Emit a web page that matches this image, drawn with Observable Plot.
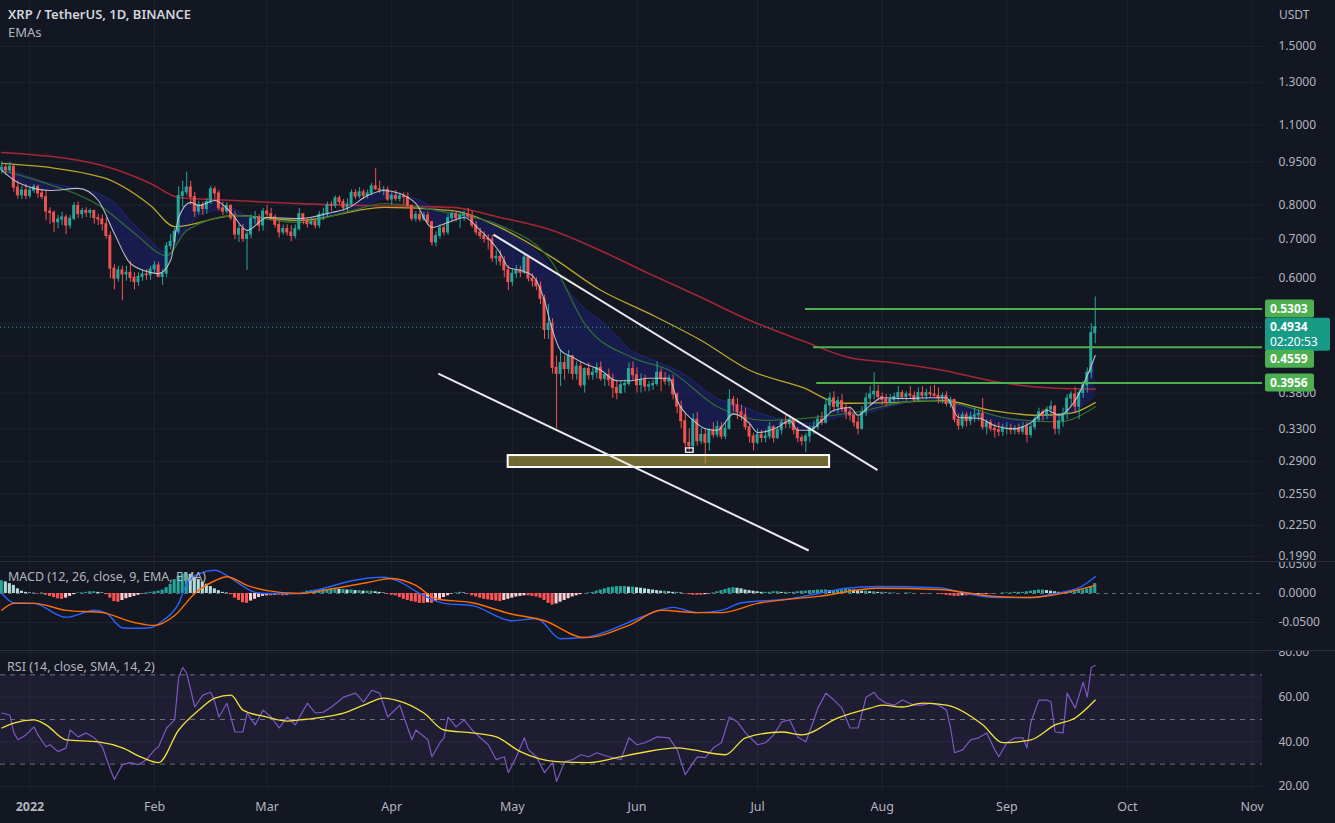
<!DOCTYPE html>
<html><head><meta charset="utf-8">
<script src="https://cdn.jsdelivr.net/npm/d3@7"></script>
<script src="https://cdn.jsdelivr.net/npm/@observablehq/plot@0.6"></script>
<style>
html,body{margin:0;padding:0;background:#131722;}
#chart{position:relative;width:1335px;height:823px;overflow:hidden;background:#131722;font-family:"Noto Sans","Open Sans",sans-serif;}
#chart svg{display:block;}
.lbl{position:absolute;color:#b2b5be;font-size:12px;white-space:nowrap;line-height:1;z-index:5;}
.sep{position:absolute;left:0;width:1335px;height:1px;background:#2a2e39;z-index:4;}
</style></head><body><div id="chart"></div><script>
// ---------------- DATA ----------------
const firstOpen = 0.92;          // open of first candle (2021-12-25)
const firstDay = "2021-12-25";
// daily [high, low, close]
const dec21 = [[0.950,0.905,0.928],[0.940,0.900,0.918],[0.948,0.908,0.932],[0.934,0.842,0.858],[0.880,0.820,0.832],[0.862,0.818,0.848],[0.868,0.818,0.830]];
const jan22 = [[0.858,0.822,0.848],[0.868,0.838,0.860],[0.866,0.822,0.838],[0.852,0.818,0.826],[0.848,0.752,0.780],[0.792,0.742,0.776],[0.782,0.718,0.748],[0.768,0.728,0.756],[0.778,0.738,0.762],[0.770,0.712,0.738],[0.768,0.728,0.758],[0.808,0.752,0.798],[0.810,0.758,0.772],[0.790,0.758,0.782],[0.792,0.762,0.776],[0.788,0.760,0.782],[0.784,0.742,0.760],[0.772,0.738,0.756],[0.770,0.722,0.742],[0.760,0.700,0.708],[0.720,0.598,0.622],[0.632,0.572,0.598],[0.628,0.590,0.618],[0.628,0.548,0.608],[0.628,0.592,0.612],[0.640,0.590,0.600],[0.612,0.572,0.590],[0.612,0.580,0.602],[0.618,0.592,0.608],[0.620,0.594,0.606],[0.628,0.594,0.620]];
const feb22 = [[0.640,0.608,0.630],[0.638,0.600,0.602],[0.620,0.582,0.610],[0.690,0.600,0.680],[0.712,0.670,0.692],[0.730,0.682,0.720],[0.860,0.712,0.830],[0.880,0.792,0.842],[0.912,0.830,0.858],[0.880,0.800,0.826],[0.842,0.762,0.780],[0.812,0.770,0.800],[0.810,0.768,0.788],[0.822,0.772,0.810],[0.862,0.802,0.852],[0.860,0.818,0.838],[0.848,0.782,0.790],[0.810,0.768,0.780],[0.808,0.772,0.798],[0.800,0.752,0.760],[0.780,0.698,0.712],[0.740,0.690,0.728],[0.742,0.690,0.700],[0.720,0.618,0.712],[0.770,0.700,0.758],[0.780,0.742,0.762],[0.770,0.720,0.738],[0.790,0.722,0.780]];
const mar22 = [[0.800,0.760,0.772],[0.790,0.752,0.762],[0.770,0.730,0.740],[0.752,0.702,0.718],[0.740,0.710,0.728],[0.740,0.708,0.718],[0.738,0.692,0.708],[0.740,0.700,0.728],[0.790,0.722,0.772],[0.772,0.740,0.752],[0.760,0.730,0.742],[0.760,0.738,0.748],[0.758,0.728,0.738],[0.780,0.730,0.770],[0.790,0.752,0.772],[0.810,0.762,0.800],[0.812,0.780,0.798],[0.830,0.790,0.822],[0.830,0.800,0.810],[0.818,0.782,0.792],[0.820,0.780,0.802],[0.850,0.798,0.840],[0.850,0.818,0.828],[0.858,0.820,0.842],[0.850,0.818,0.830],[0.850,0.820,0.838],[0.872,0.830,0.862],[0.925,0.848,0.852],[0.880,0.838,0.848],[0.862,0.830,0.850],[0.860,0.812,0.818]];
const apr22 = [[0.840,0.800,0.830],[0.848,0.812,0.820],[0.838,0.810,0.828],[0.840,0.800,0.826],[0.840,0.790,0.798],[0.800,0.750,0.758],[0.780,0.748,0.770],[0.780,0.748,0.756],[0.778,0.750,0.768],[0.778,0.738,0.748],[0.750,0.680,0.690],[0.720,0.678,0.708],[0.740,0.700,0.730],[0.742,0.708,0.718],[0.770,0.710,0.760],[0.780,0.748,0.772],[0.780,0.748,0.760],[0.778,0.730,0.768],[0.782,0.750,0.772],[0.790,0.758,0.766],[0.780,0.730,0.738],[0.750,0.710,0.718],[0.730,0.700,0.708],[0.720,0.688,0.700],[0.712,0.670,0.698],[0.710,0.638,0.648],[0.668,0.630,0.652],[0.668,0.628,0.640],[0.652,0.600,0.618],[0.630,0.570,0.590]];
const may22 = [[0.620,0.580,0.610],[0.630,0.598,0.618],[0.628,0.600,0.612],[0.660,0.608,0.650],[0.652,0.590,0.598],[0.610,0.578,0.592],[0.600,0.570,0.580],[0.590,0.540,0.552],[0.560,0.470,0.488],[0.540,0.470,0.500],[0.510,0.410,0.420],[0.440,0.330,0.410],[0.450,0.390,0.428],[0.440,0.400,0.418],[0.450,0.410,0.440],[0.440,0.400,0.410],[0.430,0.400,0.422],[0.430,0.388,0.392],[0.420,0.380,0.418],[0.428,0.400,0.408],[0.420,0.400,0.412],[0.428,0.402,0.420],[0.430,0.398,0.402],[0.410,0.390,0.408],[0.418,0.390,0.400],[0.410,0.372,0.388],[0.400,0.370,0.380],[0.398,0.378,0.392],[0.400,0.380,0.394],[0.428,0.390,0.418],[0.430,0.400,0.408]];
const jun22 = [[0.420,0.380,0.392],[0.410,0.380,0.400],[0.408,0.382,0.390],[0.398,0.382,0.392],[0.400,0.384,0.394],[0.430,0.390,0.412],[0.418,0.382,0.402],[0.412,0.392,0.398],[0.408,0.390,0.400],[0.408,0.370,0.378],[0.380,0.350,0.360],[0.368,0.330,0.340],[0.350,0.300,0.312],[0.330,0.302,0.308],[0.350,0.300,0.342],[0.352,0.308,0.314],[0.330,0.310,0.322],[0.330,0.287,0.312],[0.330,0.302,0.328],[0.338,0.318,0.322],[0.340,0.318,0.332],[0.338,0.316,0.320],[0.338,0.316,0.330],[0.385,0.328,0.370],[0.375,0.352,0.362],[0.372,0.342,0.352],[0.362,0.340,0.348],[0.358,0.328,0.332],[0.336,0.312,0.320],[0.324,0.302,0.312]];
const jul22 = [[0.330,0.310,0.322],[0.328,0.312,0.318],[0.328,0.312,0.320],[0.338,0.316,0.332],[0.334,0.312,0.318],[0.332,0.316,0.328],[0.342,0.322,0.338],[0.350,0.330,0.336],[0.348,0.330,0.342],[0.344,0.322,0.328],[0.332,0.312,0.318],[0.322,0.308,0.314],[0.324,0.300,0.320],[0.334,0.312,0.330],[0.340,0.322,0.332],[0.348,0.328,0.342],[0.352,0.334,0.338],[0.372,0.336,0.362],[0.380,0.352,0.372],[0.382,0.352,0.360],[0.374,0.350,0.368],[0.378,0.352,0.358],[0.364,0.342,0.352],[0.360,0.340,0.348],[0.352,0.332,0.338],[0.346,0.322,0.330],[0.360,0.328,0.352],[0.380,0.346,0.372],[0.390,0.362,0.378],[0.412,0.370,0.382],[0.392,0.368,0.374]];
const aug22 = [[0.380,0.362,0.370],[0.378,0.360,0.366],[0.378,0.362,0.370],[0.380,0.364,0.374],[0.390,0.368,0.380],[0.384,0.370,0.374],[0.382,0.368,0.378],[0.390,0.372,0.376],[0.382,0.366,0.370],[0.388,0.366,0.380],[0.390,0.372,0.376],[0.386,0.370,0.380],[0.390,0.374,0.378],[0.392,0.374,0.376],[0.388,0.364,0.372],[0.380,0.364,0.376],[0.382,0.360,0.364],[0.374,0.358,0.370],[0.370,0.338,0.342],[0.350,0.328,0.334],[0.352,0.330,0.348],[0.352,0.332,0.340],[0.352,0.334,0.346],[0.360,0.338,0.348],[0.356,0.340,0.350],[0.372,0.328,0.332],[0.342,0.322,0.338],[0.342,0.326,0.330],[0.336,0.318,0.328],[0.338,0.320,0.326],[0.336,0.320,0.330]];
const sep22 = [[0.338,0.322,0.330],[0.336,0.322,0.328],[0.334,0.322,0.330],[0.336,0.322,0.326],[0.338,0.322,0.332],[0.338,0.312,0.322],[0.336,0.318,0.332],[0.348,0.328,0.342],[0.358,0.338,0.352],[0.356,0.340,0.348],[0.360,0.342,0.356],[0.368,0.348,0.360],[0.362,0.322,0.330],[0.350,0.322,0.340],[0.358,0.332,0.350],[0.378,0.342,0.372],[0.382,0.360,0.378],[0.388,0.350,0.360],[0.384,0.342,0.380],[0.398,0.372,0.392],[0.420,0.380,0.412],[0.500,0.402,0.482],[0.556,0.462,0.4934]];

// EMA ribbon: [date, fast EMA (white), slower EMA (ribbon edge)]
const emaRibbon = [["2021-12-25",0.918,0.936],["2021-12-29",0.875,0.911],["2022-01-06",0.848,0.872],["2022-01-13",0.855,0.855],["2022-01-18",0.815,0.838],["2022-01-22",0.715,0.809],["2022-01-26",0.635,0.753],["2022-01-31",0.613,0.696],["2022-02-02",0.610,0.674],["2022-02-05",0.643,0.663],["2022-02-07",0.762,0.696],["2022-02-10",0.809,0.738],["2022-02-12",0.799,0.768],["2022-02-16",0.815,0.783],["2022-02-20",0.777,0.790],["2022-02-24",0.724,0.768],["2022-03-01",0.762,0.759],["2022-03-09",0.759,0.759],["2022-03-17",0.777,0.771],["2022-03-21",0.790,0.783],["2022-03-26",0.831,0.802],["2022-03-30",0.848,0.821],["2022-04-03",0.838,0.828],["2022-04-07",0.805,0.821],["2022-04-11",0.732,0.796],["2022-04-15",0.747,0.777],["2022-04-19",0.762,0.774],["2022-04-23",0.724,0.759],["2022-04-28",0.661,0.738],["2022-04-30",0.625,0.718],["2022-05-03",0.618,0.696],["2022-05-06",0.605,0.674],["2022-05-09",0.548,0.643],["2022-05-11",0.487,0.618],["2022-05-13",0.450,0.594],["2022-05-16",0.438,0.559],["2022-05-19",0.427,0.531],["2022-05-23",0.416,0.507],["2022-05-27",0.399,0.477],["2022-05-30",0.399,0.453],["2022-06-04",0.403,0.436],["2022-06-09",0.403,0.422],["2022-06-11",0.369,0.416],["2022-06-15",0.341,0.399],["2022-06-18",0.330,0.384],["2022-06-21",0.328,0.372],["2022-06-25",0.350,0.365],["2022-06-29",0.337,0.357],["2022-07-01",0.325,0.352],["2022-07-06",0.332,0.344],["2022-07-09",0.341,0.341],["2022-07-11",0.328,0.338],["2022-07-14",0.328,0.337],["2022-07-17",0.341,0.338],["2022-07-20",0.355,0.344],["2022-07-24",0.359,0.348],["2022-07-26",0.348,0.349],["2022-07-29",0.362,0.352],["2022-08-01",0.373,0.357],["2022-08-07",0.372,0.366],["2022-08-13",0.373,0.369],["2022-08-17",0.373,0.369],["2022-08-20",0.345,0.365],["2022-08-25",0.344,0.355],["2022-08-29",0.334,0.348],["2022-09-03",0.330,0.341],["2022-09-07",0.338,0.340],["2022-09-11",0.355,0.344],["2022-09-14",0.348,0.346],["2022-09-18",0.369,0.355],["2022-09-23",0.441,0.376]];
const emaRed = [["2021-12-25",0.986],["2022-01-19",0.936],["2022-01-31",0.872],["2022-02-07",0.825],["2022-02-21",0.815],["2022-03-09",0.805],["2022-03-26",0.799],["2022-04-16",0.793],["2022-04-28",0.762],["2022-05-11",0.724],["2022-05-23",0.668],["2022-06-04",0.610],["2022-06-17",0.555],["2022-06-29",0.507],["2022-07-12",0.468],["2022-07-24",0.437],["2022-08-03",0.429],["2022-08-16",0.416],["2022-08-28",0.399],["2022-09-09",0.389],["2022-09-23",0.386]];
const emaYellow = [["2021-12-25",0.944],["2022-01-19",0.893],["2022-01-31",0.799],["2022-02-06",0.735],["2022-02-21",0.768],["2022-03-09",0.753],["2022-03-30",0.793],["2022-04-16",0.783],["2022-04-28",0.732],["2022-05-11",0.650],["2022-05-23",0.571],["2022-06-04",0.521],["2022-06-17",0.468],["2022-06-29",0.416],["2022-07-12",0.389],["2022-07-22",0.365],["2022-08-03",0.366],["2022-08-16",0.369],["2022-08-28",0.355],["2022-09-09",0.348],["2022-09-17",0.351],["2022-09-23",0.366]];
const emaGreen = [["2021-12-25",0.918],["2022-01-05",0.872],["2022-01-19",0.793],["2022-01-27",0.716],["2022-02-04",0.655],["2022-02-09",0.724],["2022-02-21",0.768],["2022-03-09",0.747],["2022-03-22",0.783],["2022-03-30",0.805],["2022-04-16",0.774],["2022-04-28",0.738],["2022-05-11",0.636],["2022-05-19",0.500],["2022-05-31",0.437],["2022-06-09",0.416],["2022-06-21",0.360],["2022-07-03",0.341],["2022-07-24",0.351],["2022-08-11",0.369],["2022-08-18",0.366],["2022-09-01",0.344],["2022-09-14",0.339],["2022-09-23",0.360]];

// drawings
const trendLines = [
  {from: "2022-04-26T07:00:00Z", p1: 0.712, to: "2022-07-30T20:00:00Z", p2: 0.280},
  {from: "2022-04-12T14:00:00Z", p1: 0.4106, to: "2022-07-13T17:00:00Z", p2: 0.2037}
];
const supportZone = [{from: "2022-04-29T23:00:00Z", to: "2022-07-18T22:00:00Z", top: 0.2967, bottom: 0.283}];
const lowMarker = [{from: "2022-06-13T06:00:00Z", to: "2022-06-15T02:00:00Z", top: 0.3052, bottom: 0.3000}];
const levels = [{price: 0.5303, from: "2022-07-12T22:00:00Z"}, {price: 0.4559, from: "2022-07-14T22:00:00Z"}, {price: 0.3956, from: "2022-07-15T17:00:00Z"}];
const lastPrice = 0.4934;
const countdown = "02:20:53";

// axis ticks
const priceTicks = [1.5, 1.3, 1.1, 0.95, 0.8, 0.7, 0.6, 0.38, 0.33, 0.29, 0.255, 0.225, 0.199];
const priceGrid = [1.5, 1.3, 1.1, 0.95, 0.8, 0.7, 0.6, 0.5, 0.44, 0.38, 0.33, 0.29, 0.255, 0.225, 0.199];
const macdTicks = [0.05, 0, -0.05];
const rsiTicks = [80, 60, 40, 20];
const rsiLevels = [70, 50, 30];
const xTickDates = ["2022-01-01","2022-02-01","2022-03-01","2022-04-01","2022-05-01","2022-06-01","2022-07-01","2022-08-01","2022-09-01","2022-10-01","2022-11-01"];
const xTickLabels = ["2022","Feb","Mar","Apr","May","Jun","Jul","Aug","Sep","Oct","Nov"];

// MACD (12,26,9): MACD line, signal line samples, daily histogram
const macdLine = [["2021-12-25",0.000],["2021-12-28",-0.016],["2022-01-02",-0.017],["2022-01-10",-0.041],["2022-01-17",-0.029],["2022-01-20",-0.034],["2022-01-24",-0.059],["2022-01-27",-0.060],["2022-01-31",-0.059],["2022-02-03",-0.047],["2022-02-07",-0.017],["2022-02-09",0.017],["2022-02-12",0.034],["2022-02-16",0.040],["2022-02-19",0.031],["2022-02-22",0.017],["2022-02-26",0.002],["2022-03-01",0.000],["2022-03-08",0.000],["2022-03-14",0.007],["2022-03-22",0.022],["2022-03-30",0.028],["2022-04-03",0.020],["2022-04-08",0.000],["2022-04-14",-0.017],["2022-04-21",-0.021],["2022-05-01",-0.047],["2022-05-07",-0.043],["2022-05-13",-0.078],["2022-05-19",-0.076],["2022-05-25",-0.064],["2022-06-02",-0.041],["2022-06-10",-0.024],["2022-06-16",-0.033],["2022-06-22",-0.029],["2022-06-27",-0.016],["2022-07-09",-0.009],["2022-07-16",0.000],["2022-07-23",0.009],["2022-07-31",0.012],["2022-08-15",0.010],["2022-08-22",0.000],["2022-08-29",-0.007],["2022-09-07",-0.007],["2022-09-13",0.000],["2022-09-19",0.010],["2022-09-23",0.029]];
const signalLine = [["2021-12-25",-0.029],["2021-12-28",-0.017],["2022-01-02",-0.017],["2022-01-10",-0.029],["2022-01-19",-0.033],["2022-01-27",-0.050],["2022-02-01",-0.055],["2022-02-06",-0.038],["2022-02-11",0.000],["2022-02-16",0.022],["2022-02-19",0.029],["2022-02-24",0.014],["2022-03-01",0.005],["2022-03-09",0.000],["2022-03-18",0.009],["2022-03-26",0.019],["2022-04-01",0.026],["2022-04-07",0.014],["2022-04-12",-0.009],["2022-04-21",-0.016],["2022-04-30",-0.034],["2022-05-09",-0.047],["2022-05-19",-0.076],["2022-05-30",-0.055],["2022-06-07",-0.029],["2022-06-16",-0.033],["2022-06-22",-0.033],["2022-07-01",-0.017],["2022-07-16",-0.005],["2022-07-31",0.009],["2022-08-15",0.007],["2022-08-29",-0.005],["2022-09-07",-0.007],["2022-09-16",0.002],["2022-09-23",0.014]];
const macdHist = [0.022,0.020,0.017,0.014,0.008,0.004,0.002,0.001,0.001,-0.001,0.001,-0.003,-0.005,-0.007,-0.009,-0.010,-0.008,-0.005,-0.002,0.001,0.001,0.002,0.003,0.003,0.002,0.001,-0.002,-0.008,-0.014,-0.015,-0.012,-0.009,-0.007,-0.005,-0.003,-0.001,0.001,0.002,0.003,0.004,0.006,0.010,0.016,0.024,0.030,0.034,0.036,0.033,0.028,0.024,0.020,0.016,0.012,0.008,0.005,0.002,0.001,-0.002,-0.008,-0.012,-0.016,-0.017,-0.013,-0.010,-0.007,-0.005,-0.004,-0.004,-0.003,-0.003,-0.004,-0.003,-0.002,-0.002,-0.001,0.002,0.004,0.005,0.006,0.006,0.007,0.007,0.008,0.008,0.007,0.007,0.006,0.006,0.005,0.005,0.004,0.004,0.004,0.003,0.002,0.001,-0.001,-0.003,-0.004,-0.007,-0.010,-0.012,-0.014,-0.015,-0.017,-0.017,-0.016,-0.017,-0.014,-0.010,-0.007,-0.004,-0.001,0.001,0.002,0.001,-0.001,-0.004,-0.006,-0.008,-0.010,-0.011,-0.012,-0.013,-0.014,-0.012,-0.010,-0.008,-0.006,-0.005,-0.004,-0.004,-0.005,-0.006,-0.008,-0.012,-0.017,-0.020,-0.018,-0.015,-0.012,-0.009,-0.006,-0.004,-0.002,0.000,0.001,0.002,0.004,0.006,0.008,0.010,0.011,0.012,0.012,0.012,0.011,0.011,0.010,0.009,0.008,0.007,0.006,0.005,0.004,0.004,0.003,0.002,0.002,0.001,-0.001,-0.002,-0.003,-0.003,-0.003,-0.002,-0.001,0.001,0.003,0.005,0.007,0.009,0.010,0.009,0.008,0.006,0.005,0.004,0.003,0.002,0.002,0.002,0.003,0.003,0.002,0.002,0.001,0.002,0.003,0.004,0.004,0.005,0.005,0.006,0.006,0.006,0.005,0.005,0.006,0.006,0.007,0.007,0.006,0.005,0.004,0.004,0.003,0.003,0.002,0.002,0.001,0.001,0.001,0.000,0.000,0.001,0.001,0.000,0.000,-0.001,-0.001,0.000,0.000,-0.001,-0.002,-0.003,-0.004,-0.005,-0.005,-0.004,-0.004,-0.003,-0.003,-0.002,-0.002,-0.001,-0.001,0.000,0.000,0.001,0.001,0.001,0.002,0.002,0.002,0.003,0.004,0.005,0.006,0.006,0.005,0.004,0.003,0.002,0.001,0.001,0.002,0.003,0.005,0.006,0.008,0.012,0.017];

// RSI(14) and its SMA(14)
const rsiPts = [["2021-12-25",52.9],["2021-12-27",52.0],["2021-12-28",44.0],["2021-12-29",40.9],["2021-12-31",43.1],["2022-01-02",46.7],["2022-01-03",43.1],["2022-01-05",37.8],["2022-01-06",38.7],["2022-01-08",35.6],["2022-01-10",37.3],["2022-01-11",45.3],["2022-01-13",42.2],["2022-01-15",44.0],["2022-01-17",41.8],["2022-01-19",37.8],["2022-01-21",27.6],["2022-01-22",23.1],["2022-01-24",29.8],["2022-01-26",30.7],["2022-01-28",29.8],["2022-01-30",32.0],["2022-02-01",36.4],["2022-02-02",37.8],["2022-02-04",46.2],["2022-02-06",49.8],["2022-02-07",68.9],["2022-02-08",73.3],["2022-02-09",70.7],["2022-02-11",55.6],["2022-02-13",60.9],["2022-02-15",62.2],["2022-02-16",57.8],["2022-02-17",51.1],["2022-02-19",57.3],["2022-02-21",44.4],["2022-02-23",44.4],["2022-02-24",52.9],["2022-02-26",47.6],["2022-02-28",54.2],["2022-03-02",51.1],["2022-03-04",46.2],["2022-03-06",51.1],["2022-03-08",47.6],["2022-03-11",57.3],["2022-03-13",52.9],["2022-03-15",53.3],["2022-03-17",55.6],["2022-03-20",60.0],["2022-03-23",61.8],["2022-03-25",57.8],["2022-03-27",63.1],["2022-03-29",61.8],["2022-03-31",51.1],["2022-04-01",52.9],["2022-04-03",56.4],["2022-04-06",40.9],["2022-04-07",45.3],["2022-04-10",40.9],["2022-04-11",33.3],["2022-04-13",39.6],["2022-04-14",41.8],["2022-04-15",51.1],["2022-04-17",46.7],["2022-04-19",49.8],["2022-04-21",45.3],["2022-04-23",41.8],["2022-04-25",38.7],["2022-04-27",32.0],["2022-04-29",33.3],["2022-04-30",26.2],["2022-05-02",33.3],["2022-05-04",41.8],["2022-05-05",36.4],["2022-05-07",33.3],["2022-05-09",26.2],["2022-05-11",30.7],["2022-05-12",22.2],["2022-05-14",31.1],["2022-05-16",32.0],["2022-05-18",34.2],["2022-05-20",33.3],["2022-05-22",35.1],["2022-05-25",33.3],["2022-05-28",32.0],["2022-05-30",41.8],["2022-06-01",38.7],["2022-06-03",39.6],["2022-06-06",42.2],["2022-06-09",41.8],["2022-06-11",36.4],["2022-06-13",25.3],["2022-06-15",30.7],["2022-06-16",33.3],["2022-06-18",32.9],["2022-06-20",37.3],["2022-06-22",39.6],["2022-06-24",51.1],["2022-06-26",48.9],["2022-06-28",44.0],["2022-07-01",38.7],["2022-07-03",39.6],["2022-07-05",43.1],["2022-07-07",48.9],["2022-07-09",49.8],["2022-07-11",42.2],["2022-07-13",40.0],["2022-07-15",49.8],["2022-07-16",55.1],["2022-07-18",61.8],["2022-07-20",58.7],["2022-07-22",55.1],["2022-07-24",46.2],["2022-07-26",46.2],["2022-07-28",60.0],["2022-07-30",62.2],["2022-07-31",59.6],["2022-08-02",57.3],["2022-08-04",56.4],["2022-08-06",58.7],["2022-08-09",56.4],["2022-08-11",56.4],["2022-08-13",57.3],["2022-08-15",56.4],["2022-08-17",54.2],["2022-08-18",46.2],["2022-08-19",35.1],["2022-08-21",36.4],["2022-08-23",40.9],["2022-08-25",41.8],["2022-08-27",44.0],["2022-08-29",36.4],["2022-08-30",33.3],["2022-09-01",39.6],["2022-09-03",41.8],["2022-09-05",41.8],["2022-09-06",37.3],["2022-09-07",48.9],["2022-09-09",58.7],["2022-09-11",58.7],["2022-09-12",57.8],["2022-09-13",44.4],["2022-09-15",44.0],["2022-09-16",61.8],["2022-09-18",55.1],["2022-09-20",66.7],["2022-09-21",60.0],["2022-09-22",73.3],["2022-09-23",74.2]];
const rsiMa = [["2021-12-25",46.2],["2021-12-28",48.4],["2022-01-02",49.8],["2022-01-05",47.6],["2022-01-10",40.9],["2022-01-18",40.0],["2022-01-24",37.3],["2022-01-29",32.9],["2022-02-02",30.7],["2022-02-07",45.3],["2022-02-12",54.2],["2022-02-16",59.6],["2022-02-20",60.9],["2022-02-23",54.2],["2022-03-01",51.1],["2022-03-06",49.3],["2022-03-09",49.8],["2022-03-15",51.1],["2022-03-20",52.9],["2022-03-25",56.4],["2022-03-30",59.6],["2022-04-02",58.7],["2022-04-09",52.9],["2022-04-14",45.3],["2022-04-21",44.0],["2022-04-27",42.2],["2022-05-03",35.6],["2022-05-12",31.1],["2022-05-20",30.7],["2022-05-27",32.9],["2022-06-02",35.1],["2022-06-11",37.3],["2022-06-15",36.4],["2022-06-23",34.2],["2022-06-28",41.8],["2022-07-07",44.4],["2022-07-12",43.1],["2022-07-21",50.7],["2022-07-29",55.1],["2022-08-01",56.4],["2022-08-06",55.6],["2022-08-11",57.3],["2022-08-17",56.4],["2022-08-26",47.6],["2022-08-31",39.6],["2022-09-07",40.9],["2022-09-13",47.6],["2022-09-18",50.7],["2022-09-23",58.7]];

// ---------------- BUILD ----------------
const DAY = 864e5;
const t0 = Date.parse(firstDay + "T00:00:00Z");
const D = s => new Date(s.length > 10 ? s : s + "T00:00:00Z");
let prevClose = firstOpen;
const candles = [dec21, jan22, feb22, mar22, apr22, may22, jun22, jul22, aug22, sep22].flat().map(([h, l, c], i) => {
  const o = prevClose; prevClose = c;
  return {date: new Date(t0 + i * DAY), open: o, high: Math.max(h, o, c), low: Math.min(l, o, c), close: c};
});
const UP = "#26a69a", DOWN = "#ef5350";
const cColor = d => d.close >= d.open ? UP : DOWN;
const histRows = macdHist.map((v, i) => {
  const p = i ? macdHist[i - 1] : v;
  const fill = v >= 0 ? (v >= p ? "#26a69a" : "#b2dfdb") : (v <= p ? "#ff5252" : "#ffcdd2");
  return {date: new Date(t0 + i * DAY), v, fill};
});

const xDomain = [new Date("2021-12-24T16:15:00Z"), new Date("2022-11-03T14:24:00Z")];
const xTicks = xTickDates.map((s, i) => ({date: D(s), label: xTickLabels[i]}));
const W = 1335, MR = 73;
const GRID = "#1f2330";
const TXT = "#b2b5be";
const base = {width: W, marginLeft: 0, marginRight: MR, marginTop: 0, marginBottom: 0,
  style: {background: "#131722", color: TXT, fontFamily: "Noto Sans, sans-serif", fontSize: "12px"},
  color: {type: "identity"}};
const half = 0.37 * DAY;
const tickText = (vals, fmt) => Plot.text(vals, {y: d => d, text: fmt, frameAnchor: "right", textAnchor: "start", dx: 16, fill: TXT, fontSize: 12});
const vGrid = Plot.ruleX(xTicks, {x: "date", stroke: GRID, strokeWidth: 1});

const pricePlot = Plot.plot({...base, height: 561,
  x: {type: "utc", domain: xDomain, axis: null},
  y: {type: "log", domain: [0.195, 1.8], axis: null},
  marks: [
    Plot.ruleY(priceGrid, {stroke: GRID}),
    vGrid,
    Plot.areaY(emaRibbon, {x: d => D(d[0]), y1: d => d[1], y2: d => d[2], fill: "#1a206a", fillOpacity: 0.6, curve: "monotone-x"}),
    Plot.line(emaRibbon, {x: d => D(d[0]), y: d => d[2], stroke: "#232c80", strokeWidth: 1, strokeOpacity: 0.7, curve: "monotone-x"}),
    Plot.line(emaRed, {x: d => D(d[0]), y: d => d[1], stroke: "#b3283a", strokeWidth: 1.6, strokeOpacity: 0.9, curve: "monotone-x"}),
    Plot.line(emaYellow, {x: d => D(d[0]), y: d => d[1], stroke: "#b5a82a", strokeWidth: 1.3, curve: "monotone-x"}),
    Plot.line(emaGreen, {x: d => D(d[0]), y: d => d[1], stroke: "#2f6a33", strokeWidth: 1.3, curve: "monotone-x"}),
    Plot.ruleX(candles, {x: "date", y1: "low", y2: "high", stroke: cColor, strokeWidth: 1}),
    Plot.rect(candles, {x1: d => new Date(+d.date - half), x2: d => new Date(+d.date + half), y1: "open", y2: "close", fill: cColor, insetTop: -0.5, insetBottom: -0.5}),
    Plot.line(emaRibbon, {x: d => D(d[0]), y: d => d[1], stroke: "#c9ccd4", strokeWidth: 1.1, strokeOpacity: 0.9, curve: "monotone-x"}),
    Plot.ruleY([lastPrice], {stroke: "#26a69a", strokeDasharray: "1 3", strokeWidth: 1}),
    Plot.ruleY(levels, {y: "price", x1: d => D(d.from), x2: () => xDomain[1], stroke: "#4caf50", strokeWidth: 2}),
    Plot.rect(supportZone, {x1: d => D(d.from), x2: d => D(d.to), y1: "bottom", y2: "top", fill: "#a89d3a", fillOpacity: 0.62, stroke: "#ffffff", strokeWidth: 2}),
    Plot.rect(lowMarker, {x1: d => D(d.from), x2: d => D(d.to), y1: "bottom", y2: "top", fill: "none", stroke: "#ffffff", strokeWidth: 1.2}),
    Plot.link(trendLines, {x1: d => D(d.from), y1: "p1", x2: d => D(d.to), y2: "p2", stroke: "#e9e9ec", strokeWidth: 2}),
    tickText(priceTicks, d => d.toFixed(4))
  ]});

const macdPlot = Plot.plot({...base, height: 89,
  x: {type: "utc", domain: xDomain, axis: null},
  y: {domain: [-0.0983, 0.0552], axis: null},
  marks: [
    Plot.ruleY([-0.05], {stroke: GRID}),
    vGrid,
    Plot.ruleY([0], {stroke: "#787b86", strokeDasharray: "4 4", strokeOpacity: 0.8}),
    Plot.rect(histRows, {x1: d => new Date(+d.date - 0.38 * DAY), x2: d => new Date(+d.date + 0.38 * DAY), y1: 0, y2: "v", fill: "fill"}),
    Plot.line(macdLine, {x: d => D(d[0]), y: d => d[1], stroke: "#2962ff", strokeWidth: 1.4, curve: "monotone-x"}),
    Plot.line(signalLine, {x: d => D(d[0]), y: d => d[1], stroke: "#ff6d00", strokeWidth: 1.4, curve: "monotone-x"}),
    tickText(macdTicks, d => d.toFixed(4))
  ]});

const rsiPlot = Plot.plot({...base, height: 140,
  x: {type: "utc", domain: xDomain, axis: null},
  y: {domain: [18.2, 80.9], axis: null},
  marks: [
    Plot.ruleY(rsiTicks, {stroke: GRID}),
    vGrid,
    Plot.rect([{lo: 30, hi: 70}], {x1: () => xDomain[0], x2: () => xDomain[1], y1: "lo", y2: "hi", fill: "#7e57c2", fillOpacity: 0.1}),
    Plot.ruleY(rsiLevels, {stroke: "#787b86", strokeDasharray: "5 5", strokeOpacity: 0.9}),
    Plot.line(rsiPts, {x: d => D(d[0]), y: d => d[1], stroke: "#7e57c2", strokeWidth: 1.2}),
    Plot.line(rsiMa, {x: d => D(d[0]), y: d => d[1], stroke: "#f0e23c", strokeWidth: 1.3, curve: "monotone-x"}),
    tickText(rsiTicks, d => d.toFixed(2))
  ]});

const axisPlot = Plot.plot({...base, height: 33,
  x: {type: "utc", domain: xDomain, axis: null},
  marks: [
    Plot.text(xTicks.filter(d => d.label === "2022"), {x: "date", text: "label", frameAnchor: "middle", fill: TXT, fontSize: 12.5, fontWeight: 700}),
    Plot.text(xTicks.filter(d => d.label !== "2022"), {x: "date", text: "label", frameAnchor: "middle", fill: TXT, fontSize: 12.5})
  ]});

const root = document.getElementById("chart");
[pricePlot, macdPlot, rsiPlot, axisPlot].forEach(p => root.appendChild(p));

// price labels on the right axis, positioned by Plot's y scale
const sy = pricePlot.scale("y");
const svg = d3.select(pricePlot);
function tag(top, h, w, fill, lines) {
  const g = svg.append("g").attr("text-anchor", "start");
  g.append("rect").attr("x", 1265).attr("y", top).attr("width", w).attr("height", h).attr("rx", 2).attr("fill", fill);
  lines.forEach((ln, k) => g.append("text").attr("x", 1270).attr("y", top + 9 + k * 15).attr("dy", "0.35em")
    .attr("text-anchor", "start").attr("fill", "#ffffff").attr("font-size", 12).attr("font-weight", ln.bold ? 700 : 400)
    .attr("font-family", "Noto Sans, sans-serif").text(ln.t));
}
const tealTop = sy.apply(lastPrice) - 9;
tag(sy.apply(levels[0].price) - 9, 18, 49, "#4caf50", [{t: levels[0].price.toFixed(4), bold: true}]);
tag(tealTop, 33, 65, "#179b87", [{t: lastPrice.toFixed(4), bold: true}, {t: countdown}]);
tag(tealTop + 32, 18, 49, "#4caf50", [{t: levels[1].price.toFixed(4), bold: true}]);
tag(sy.apply(levels[2].price) - 9, 18, 49, "#4caf50", [{t: levels[2].price.toFixed(4), bold: true}]);

function label(text, left, top, extra) {
  const el = document.createElement("div");
  el.className = "lbl"; el.textContent = text;
  el.style.left = left + "px"; el.style.top = top + "px";
  Object.assign(el.style, extra || {});
  root.appendChild(el);
}
label("XRP / TetherUS, 1D, BINANCE", 8, 8, {fontSize: "13px", fontWeight: "600", color: "#d1d4dc"});
label("EMAs", 8, 26, {fontSize: "13px", color: "#b2b5be"});
label("USDT", 1279, 9, {fontSize: "12px"});
label("MACD (12, 26, close, 9, EMA, EMA)", 8, 571, {fontSize: "12.5px"});
label("RSI (14, close, SMA, 14, 2)", 7, 661, {fontSize: "12.5px"});
[561, 650].forEach(t => { const s = document.createElement("div"); s.className = "sep"; s.style.top = t + "px"; root.appendChild(s); });
</script></body></html>
